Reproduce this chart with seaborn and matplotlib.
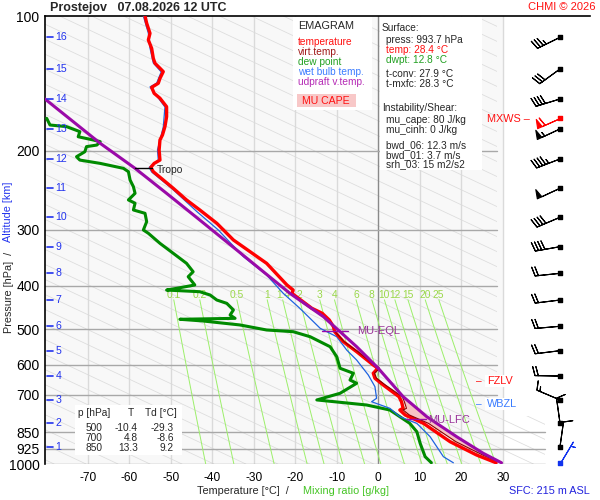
import numpy as np
import matplotlib
matplotlib.use("Agg")
import matplotlib.pyplot as plt
import seaborn as sns
from matplotlib.patches import Rectangle, Polygon

# sounding values (pressure hPa, temperature degC)
temp_p = [100, 103.8, 109.3, 113.1, 118.1, 124.3, 127.5, 130.8, 133.1, 137.8, 141.3, 144.3,
          148.8, 152.6, 159.4, 167.8, 176.6, 184.4, 189.1, 199.2, 209.7, 213.3, 217.7, 222.6,
          232.3, 242.4, 257.4, 271.0, 290.2, 316.2, 356.5, 398.5, 409.0, 416.0, 449.2, 460.9,
          477.0, 493.7, 506.6, 533.4, 561.5, 601.2, 611.4, 627.3, 643.7, 666.2, 707.6, 726.1,
          751.1, 757.7, 777.3, 811.5, 891.6, 954.8, 993.7]
temp_t = [-56.2, -55.8, -55.0, -55.4, -54.6, -54.2, -53.8, -52.6, -51.8, -52.6, -53.0, -54.6,
          -54.0, -52.6, -51.0, -51.0, -51.4, -52.0, -52.6, -52.8, -52.6, -54.0, -54.8, -54.2,
          -51.8, -49.4, -46.2, -43.0, -38.9, -34.9, -26.9, -22.0, -20.5, -20.8, -16.0, -13.5,
          -11.8, -10.8, -10.5, -8.4, -5.2, -1.2, -0.1, -1.2, -0.8, 1.2, 5.0, 5.6,
          6.0, 5.2, 6.5, 10.9, 17.3, 23.7, 28.4]

virt_p = [506.6, 533.4, 561.5, 601.2, 611.4, 627.3, 643.7, 666.2, 707.6, 726.1, 751.1, 757.7,
          777.3, 811.5, 891.6, 954.8, 993.7]
virt_t = [-10.4, -8.2, -4.9, -0.9, 0.3, -0.9, -0.4, 1.7, 5.8, 6.3, 6.8, 6.0,
          7.5, 12.1, 18.7, 25.2, 29.6]

dwpt_p = [169.2, 175.1, 176.6, 181.2, 186.0, 189.1, 190.8, 194.1, 195.7, 200.9, 206.1, 209.7,
          213.3, 218.8, 222.6, 232.3, 240.4, 248.8, 257.4, 261.8, 271.0, 275.7, 287.8, 300.4,
          305.5, 321.7, 338.6, 356.5, 372.3, 381.9, 398.5, 405.4, 409.0, 412.5, 419.6, 430.5,
          437.9, 453.1, 465.0, 473.0, 475.3, 479.5, 489.4, 502.2, 506.6, 519.9, 547.3, 576.1,
          611.4, 627.3, 649.5, 660.4, 695.3, 719.5, 738.4, 757.7, 784.2, 811.5, 847.2, 899.0,
          963.1, 993.7]
dwpt_t = [-79.9, -79.1, -75.1, -71.9, -72.3, -68.7, -67.0, -67.8, -70.3, -70.7, -72.7, -71.9,
          -67.0, -61.4, -60.2, -59.8, -59.0, -58.6, -60.2, -58.6, -59.0, -56.2, -55.8, -56.6,
          -55.4, -52.6, -49.4, -46.2, -44.6, -45.8, -44.2, -48.6, -51.0, -43.0, -40.5, -38.9,
          -36.5, -34.9, -35.7, -34.5, -47.8, -42.2, -33.3, -26.9, -20.5, -16.4, -11.6, -10.0,
          -9.2, -6.0, -6.8, -5.2, -9.2, -14.8, -2.8, 2.8, 5.2, 7.6, 9.3, 10.1,
          11.3, 12.8]

wetb_p = [100, 109.2, 117.9, 127.3, 133.3, 141.2, 144.0, 152.4, 159.6, 176.9, 199.1, 209.7,
          217.7, 222.9, 242.4, 273.8, 300.0, 344.5, 378.6, 415.9, 449.2, 497.8, 519.9, 556.7,
          586.1, 632.9, 672.0, 713.4, 726.1, 751.1, 784.2, 811.5, 869.2, 963.1, 993.7]
wetb_t = [-56.6, -55.4, -55.0, -54.2, -52.3, -53.4, -55.0, -53.0, -51.4, -51.8, -53.2, -53.0,
          -55.2, -54.6, -49.8, -43.6, -38.6, -32.5, -26.9, -22.9, -18.9, -14.0, -10.0, -7.6,
          -5.2, -2.4, -0.8, -0.4, -1.6, 2.8, 5.2, 9.3, 12.5, 15.7, 18.1]

parcel_p = [153.2, 192.4, 218.8, 248.8, 285.4, 332.9, 415.9, 469.1, 547.3, 611.4, 707.6, 784.2,
            869.2, 946.5, 993.7]
parcel_t = [-80.3, -67.0, -58.6, -51.0, -43.0, -34.1, -21.3, -13.2, -5.2, 0.0, 6.0, 11.7,
            18.9, 25.3, 29.7]

# altitude marks (km) and their pressures; winds on the same levels
alt_km = [16, 15, 14, 13, 12, 11, 10, 9, 8, 7, 6, 5, 4, 3, 2, 1]
alt_p = [111.6, 131.3, 153.2, 178.7, 208.5, 242.4, 281.4, 327.3, 375.3, 430.5, 492.7, 558.6,
         636.3, 719.5, 810.0, 914.9]
wind_dir = [244, 234, 253, 245, 249, 245, 247, 260, 264, 263, 265, 263, 271, 293, 352, 8]
wind_spd = [35, 30, 40, 55, 45, 50, 40, 40, 20, 20, 20, 20, 20, 15, 10, 10]
sfc_p, sfc_dir, sfc_spd = 993.7, 31, 5
mxws_p, mxws_dir, mxws_spd = 169.2, 246, 60

mix_ratio = [0.1, 0.2, 0.5, 1, 1.4, 2, 3, 4, 6, 8, 10, 12, 15, 20, 25]
mix_labels = ["0.1", "0.2", "0.5", "1", "1.4", "2", "3", "4", "6", "8", "10", "12", "15", "20", "25"]

p_ticks = [100, 200, 300, 400, 500, 600, 700, 850, 925, 1000]
t_ticks = [-70, -60, -50, -40, -30, -20, -10, 0, 10, 20, 30]

table_p = ["500", "700", "850"]
table_t = ["-10.4", "4.8", "13.3"]
table_td = ["-29.3", "-8.6", "9.2"]

sns.set_theme(style="white")
plt.rcParams["font.family"] = ["Liberation Sans", "DejaVu Sans"]

W, H = 600, 500
fig = plt.figure(figsize=(6, 5), dpi=100)


def fx(x):
    return x / W


def fy(y):
    return 1 - y / H


T_LEFT = -80.3
PX_PER_C = 4.15
T_RIGHT = T_LEFT + (590 - 45) / PX_PER_C
T_GRID1 = 28.5   # right end of grid above ~780 hPa
T_GRID2 = 40.3   # right end of grid below

ax = fig.add_axes([fx(45), fy(464), (590 - 45) / W, 448 / H])
ax.set_yscale("log")
ax.set_xlim(T_LEFT, T_RIGHT)
ax.set_ylim(1000, 100)
ax.set_facecolor("white")
ax.grid(False)

ax.axvspan(T_LEFT, 30, color="#f8f8f8", zorder=0, lw=0)

clip = Polygon([(T_LEFT, 100), (T_GRID1, 100), (T_GRID1, 780), (T_GRID2, 780),
                (T_GRID2, 1000), (T_LEFT, 1000)], closed=True, transform=ax.transData,
               facecolor="none", edgecolor="none")
ax.add_patch(clip)

# diagonal background lines
pp = np.geomspace(100, 1000, 60)
for k in range(-42, 6):
    t0 = 0.2 + 7.7 * k
    ln, = ax.plot(t0 + 229.7 * np.log10(pp / 100), pp, color="#dcdcdc", lw=0.55, zorder=1)
    ln.set_clip_path(clip)

# isotherms and isobars
for t in t_ticks:
    ax.plot([t, t], [100, 1000], color="#8a8a8a" if t == 0 else "#dadada",
            lw=1.0, zorder=1.2)
for p in p_ticks[1:]:
    xe = T_GRID2 if p >= 850 else T_GRID1
    ax.plot([T_LEFT, xe], [p, p], color="#a8a8a8", lw=1.0, zorder=1.3)

# mixing ratio lines
pm = np.geomspace(430, 1000, 30)
for w, lab in zip(mix_ratio, mix_labels):
    e = w * pm / (622 + w)
    lg = np.log(e / 6.112)
    td = 243.5 * lg / (17.67 - lg)
    ax.plot(td, pm, color="#9cef6a", lw=0.7, zorder=1.5)
    e4 = w * 420 / (622 + w)
    l4 = np.log(e4 / 6.112)
    ax.text(243.5 * l4 / (17.67 - l4) + 0.3, 420, lab, color="#9ad84a", fontsize=7.4,
            ha="center", va="center", zorder=1.6)

# CAPE area
pg = np.geomspace(720, 993.7, 80)
vi = np.interp(np.log(pg), np.log(virt_p), virt_t)
pa = np.interp(np.log(pg), np.log(parcel_p), parcel_t)
ax.fill_betweenx(pg, vi, pa, where=pa > vi, color="#f6c4c4", lw=0, zorder=2)

# profiles
sns.lineplot(x=dwpt_t, y=dwpt_p, sort=False, estimator=None, color="#008a00",
             linewidth=2.2, ax=ax, zorder=3)
sns.lineplot(x=wetb_t, y=wetb_p, sort=False, estimator=None, color="#1f63e0",
             linewidth=0.9, ax=ax, zorder=3.5)
sns.lineplot(x=temp_t, y=temp_p, sort=False, estimator=None, color="#ff0000",
             linewidth=2.4, ax=ax, zorder=4)
sns.lineplot(x=virt_t, y=virt_p, sort=False, estimator=None, color="#8b0000",
             linewidth=0.8, ax=ax, zorder=4.2)
sns.lineplot(x=parcel_t, y=parcel_p, sort=False, estimator=None, color="#9a0aa8",
             linewidth=2.2, ax=ax, zorder=4.5)

# tropopause / levels
ax.plot([T_LEFT + (135 - 45) / PX_PER_C, T_LEFT + (152 - 45) / PX_PER_C], [218.8, 218.8],
        color="black", lw=1, zorder=6)
ax.text(T_LEFT + (157 - 45) / PX_PER_C, 221, "Tropo", fontsize=7.4, va="center", zorder=6)
ax.plot([T_LEFT + (322 - 45) / PX_PER_C, T_LEFT + (348 - 45) / PX_PER_C], [506, 506],
        color="#9a0aa8", lw=1, zorder=6)
ax.text(T_LEFT + (357 - 45) / PX_PER_C, 506, "MU-EQL", color="#993399", fontsize=8,
        va="center", zorder=6)
ax.plot([T_LEFT + (406 - 45) / PX_PER_C, T_LEFT + (426 - 45) / PX_PER_C], [795, 795],
        color="#9a0aa8", lw=1, zorder=6)
ax.text(T_LEFT + (428 - 45) / PX_PER_C, 797, "MU-LFC", color="#993399", fontsize=8,
        va="center", zorder=6)

# altitude marks
for km, p in zip(alt_km, alt_p):
    ax.plot([T_LEFT + 0.5, T_LEFT + 1.9], [p, p], color="#2233ee", lw=1.2, zorder=6)
    ax.text(T_LEFT + 2.5, p, str(km), color="#2233ee", fontsize=7.6, va="center", zorder=6)

# winds
XB = T_LEFT + (560 - 45) / PX_PER_C
bsz = dict(spacing=0.13, height=0.36, width=0.2)
d = np.radians(wind_dir)
u = -np.array(wind_spd) * np.sin(d)
v = -np.array(wind_spd) * np.cos(d)
ax.barbs([XB] * len(alt_p), alt_p, u, v, length=6, sizes=bsz, color="black", lw=0.8,
         clip_on=False, zorder=7)
ax.scatter([XB] * len(alt_p), alt_p, marker="s", s=5, color="black", clip_on=False, zorder=7)
ds = np.radians(sfc_dir)
ax.barbs([XB], [sfc_p], [-sfc_spd * np.sin(ds)], [-sfc_spd * np.cos(ds)], length=6,
         sizes=bsz, color="#1133ee", lw=0.8, clip_on=False, zorder=7)
ax.scatter([XB], [sfc_p], marker="s", s=5, color="#1133ee", clip_on=False, zorder=7)
dm = np.radians(mxws_dir)
ax.barbs([XB], [mxws_p], [-mxws_spd * np.sin(dm)], [-mxws_spd * np.cos(dm)], length=6,
         sizes=bsz, color="#ff0000", lw=0.8, clip_on=False, zorder=7)
ax.scatter([XB], [mxws_p], marker="s", s=5, color="#ff0000", clip_on=False, zorder=7)

# axes decoration
for s in ["right", "bottom"]:
    ax.spines[s].set_visible(False)
for s in ["left", "top"]:
    ax.spines[s].set_color("black")
    ax.spines[s].set_linewidth(1.2)
ax.set_yticks(p_ticks)
ax.set_yticklabels([str(p) for p in p_ticks])
ax.yaxis.set_minor_locator(matplotlib.ticker.NullLocator())
ax.set_xticks(t_ticks)
ax.set_xticklabels([str(t) for t in t_ticks])
ax.tick_params(axis="y", length=0, pad=4, labelsize=10, colors="black")
ax.tick_params(axis="x", length=0, pad=6, labelsize=8.6, colors="black")
ax.set_xlabel("")
ax.set_ylabel("")


# text boxes (figure level, drawn above the axes)
def box(x0, y0, x1, y1, color="white"):
    fig.add_artist(Rectangle((fx(x0), fy(y1)), (x1 - x0) / W, (y1 - y0) / H,
                             transform=fig.transFigure, facecolor=color,
                             edgecolor="none", zorder=1))


def txt(x, y, s, **kw):
    kw.setdefault("fontsize", 7.3)
    kw.setdefault("va", "center")
    fig.text(fx(x), fy(y), s, **kw)


box(293, 17, 372, 110)
box(380, 17, 482, 170)
box(297, 94, 356, 107, "#f8c8c8")
box(75, 405, 182, 455)
box(485, 375, 523, 387)
box(485, 398, 523, 410)

txt(298, 26, "EMAGRAM", fontsize=7.8)
txt(298, 42, "temperature", color="#ff1111")
txt(298, 52, "virt.temp.", color="#a01818")
txt(298, 62, "dew point", color="#22a022")
txt(298, 72, "wet bulb temp.", color="#3a7cff")
txt(298, 82, "udpraft v.temp.", color="#b52ab5")
txt(326, 101, "MU CAPE", color="#ff1111", ha="center", fontsize=7.6)

txt(382, 28, "Surface:")
txt(386, 40, "press: 993.7 hPa")
txt(386, 50, "temp: 28.4 \u00b0C", color="#ff1111")
txt(386, 60, "dwpt: 12.8 \u00b0C", color="#22a022")
txt(386, 74, "t-conv: 27.9 \u00b0C")
txt(386, 84, "t-mxfc: 28.3 \u00b0C")
txt(382, 108, "Instability/Shear:")
txt(386, 120, "mu_cape: 80 J/kg")
txt(386, 130, "mu_cinh: 0 J/kg")
txt(386, 145, "bwd_06: 12.3 m/s")
txt(386, 155, "bwd_01: 3.7 m/s")
txt(386, 164.5, "srh_03: 15 m2/s2")

txt(78, 413.5, "p [hPa]")
txt(128, 413.5, "T")
txt(145, 413.5, "Td [\u00b0C]")
for i, (a, b, c) in enumerate(zip(table_p, table_t, table_td)):
    yy = 428.3 + 10 * i
    txt(102, yy, a, ha="right")
    txt(138, yy, b, ha="right")
    txt(174, yy, c, ha="right")

txt(482, 381, "\u2013", color="#ff1111", ha="right")
txt(487, 381, "FZLV", color="#ff1111", fontsize=7.8)
txt(482, 404, "\u2013", color="#3a7cff", ha="right")
txt(487, 404, "WBZL", color="#3a7cff", fontsize=7.8)
txt(487, 118.5, "MXWS \u2013", color="#ff1111", fontsize=7.8)

txt(50, 7.5, "Prostejov   07.08.2026 12 UTC", fontsize=9, fontweight="bold")
txt(596, 7.5, "CHMI \u00a9 2026", color="#ff1111", fontsize=8, ha="right")
txt(197, 491, "Temperature [\u00b0C]  /", fontsize=7.8)
txt(303, 491, "Mixing ratio [g/kg]", fontsize=7.8, color="#44c424")
txt(590, 491, "SFC: 215 m ASL", fontsize=7.8, color="#2222dd", ha="right")

fig.text(fx(9), fy(333), "Pressure [hPa]  /", rotation=90, ha="center", va="bottom",
         fontsize=7.8)
fig.text(fx(8.5), fy(242), "Altitude [km]", rotation=90, ha="center", va="bottom",
         fontsize=7.8, color="#2233ee")

fig.savefig("out.png", dpi=100, facecolor="white")
